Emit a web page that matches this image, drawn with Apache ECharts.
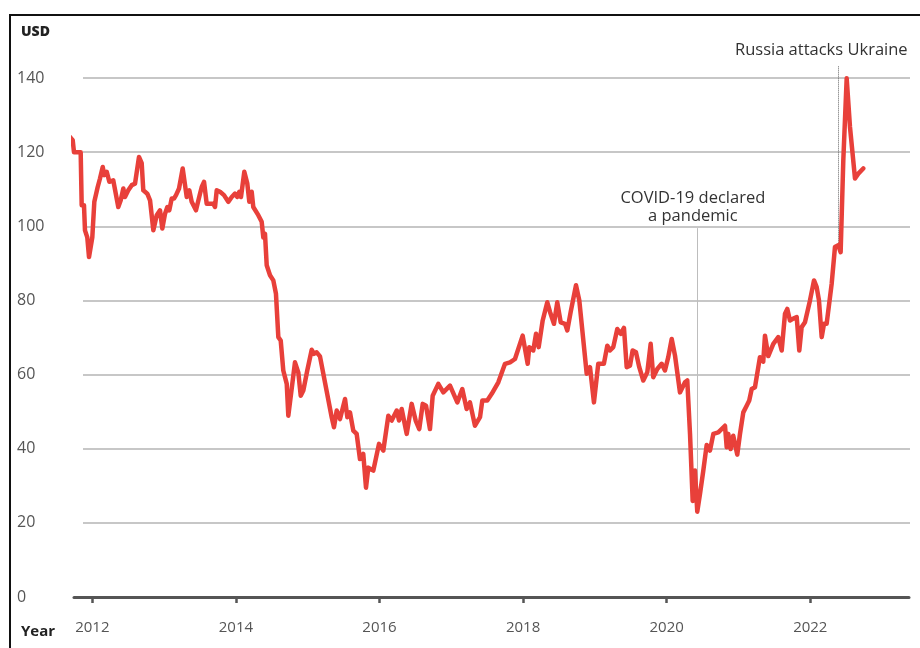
<!DOCTYPE html>
<html>
<head>
<meta charset="utf-8">
<script src="https://cdn.jsdelivr.net/npm/echarts@6/dist/echarts.min.js"></script>
<style>
html,body{margin:0;padding:0;background:#fff;}
#chart{width:920px;height:648px;}
</style>
</head>
<body>
<div id="chart"></div>
<script>
// Time (decimal years) and price (USD)
var years = [
2011.666,2011.727,2011.745,2011.838,2011.852,2011.884,2011.898,2011.930,2011.954,2012.000,
2012.028,2012.075,2012.107,2012.145,2012.167,2012.201,2012.237,2012.292,2012.362,2012.396,
2012.432,2012.455,2012.501,2012.549,2012.595,2012.650,2012.688,2012.710,2012.766,2012.804,
2012.850,2012.897,2012.943,2012.975,2013.013,2013.045,2013.072,2013.106,2013.138,2013.166,
2013.208,2013.259,2013.315,2013.351,2013.384,2013.444,2013.500,2013.524,2013.556,2013.593,
2013.685,2013.709,2013.733,2013.779,2013.834,2013.894,2013.942,2013.987,2014.019,2014.047,
2014.071,2014.117,2014.159,2014.187,2014.220,2014.242,2014.312,2014.359,2014.382,2014.405,
2014.429,2014.475,2014.521,2014.558,2014.591,2014.624,2014.660,2014.708,2014.730,2014.753,
2014.823,2014.869,2014.903,2014.939,2014.994,2015.056,2015.088,2015.125,2015.171,2015.334,
2015.366,2015.404,2015.450,2015.520,2015.552,2015.589,2015.635,2015.682,2015.728,2015.774,
2015.812,2015.844,2015.914,2015.993,2016.053,2016.123,2016.170,2016.240,2016.272,2016.309,
2016.379,2016.448,2016.504,2016.554,2016.602,2016.648,2016.703,2016.741,2016.819,2016.889,
2016.982,2017.084,2017.153,2017.214,2017.260,2017.330,2017.400,2017.432,2017.501,2017.563,
2017.655,2017.748,2017.818,2017.887,2017.994,2018.064,2018.086,2018.142,2018.180,2018.217,
2018.273,2018.337,2018.375,2018.430,2018.476,2018.524,2018.584,2018.616,2018.663,2018.737,
2018.783,2018.886,2018.932,2018.987,2019.047,2019.125,2019.173,2019.210,2019.256,2019.312,
2019.359,2019.405,2019.443,2019.489,2019.526,2019.572,2019.618,2019.674,2019.730,2019.777,
2019.813,2019.869,2019.930,2019.976,2020.022,2020.070,2020.116,2020.185,2020.255,2020.287,
2020.325,2020.362,2020.394,2020.426,2020.464,2020.510,2020.557,2020.603,2020.650,2020.719,
2020.812,2020.836,2020.858,2020.891,2020.927,2020.983,2021.021,2021.067,2021.114,2021.150,
2021.184,2021.230,2021.276,2021.299,2021.345,2021.369,2021.415,2021.485,2021.554,2021.602,
2021.648,2021.680,2021.717,2021.763,2021.811,2021.847,2021.880,2021.926,2021.996,2022.052,
2022.089,2022.121,2022.159,2022.191,2022.228,2022.298,2022.344,2022.390,2022.423,2022.460,
2022.507,2022.553,2022.623,2022.669,2022.738
];
var prices = [
124.6,123.2,120,120,105.7,105.7,98.9,97,91.7,97,
106.6,110.6,112.9,116,113.8,114.7,112,112.4,105.2,107,
110.2,107.9,109.7,111.1,111.5,118.7,117,109.7,108.8,107,
98.9,103,104.3,99.4,103.4,105.2,104.3,107.5,107.5,108.4,
110.2,115.6,107.9,109.7,106.6,104.3,108.8,110.6,112,106.1,
106.1,105.2,109.7,109.3,108.4,106.6,107.9,108.8,107.9,109.3,
107.9,114.7,111.5,106.6,109.3,105.2,103,101.2,97,98,
89.5,86.8,85.4,81.8,70.1,69.2,61.1,57.5,48.9,49.4,
63.3,60.6,54.3,55.7,61.1,66.7,65.6,66,64.9,48.5,
45.8,50.3,48,53.4,48.5,49.8,44.9,44,37.2,38.6,
29.5,34.9,34.1,41.3,39.5,48.9,47.6,50.3,47.6,50.7,
44,52.1,47.6,45.3,52.1,51.6,45.3,54.3,57.5,55.2,
57,52.5,56.1,50.7,52.5,46.2,48.5,53,53,54.8,
57.9,62.9,63.3,64.2,70.5,62.9,67.4,66.5,71,67.4,
74.6,79.5,76.9,73.7,79.5,74.1,73.7,71.9,76.9,84.1,
80,60.2,62,52.5,62.9,62.9,67.8,66.5,67.4,72.3,
71,72.6,62,62.4,66.5,66,62,58.4,60.6,68.3,
59.3,61.5,62.9,61.1,64.7,69.6,65.1,55.2,57.9,58.4,
44,25.9,34.1,23,27.8,34.1,41,39.5,44,44.4,
46.2,40.4,44,39.9,43.5,38.4,44,49.8,51.6,53,
56.1,56.6,62,64.7,63.5,70.5,65,68.3,70.1,66.5,
76.4,77.7,74.6,75.1,75.5,66.5,72.8,74.1,80,85.4,
83.6,80,70.1,73.7,73.7,84.5,94.4,94.9,93,117.8,
139.9,126.8,112.9,114.2,115.6
];
var xTickYears = [2012, 2014, 2016, 2018, 2020, 2022];
var yTicks = [0, 20, 40, 60, 80, 100, 120, 140];
// Annotated events: year, value range of the marker line, label
var covidEvent = {year: 2020.42, from: 23, to: 99.5, label: 'COVID-19 declared\na pandemic'};
var russiaEvent = {year: 2022.39, from: 95.4, to: 143.2, label: 'Russia attacks Ukraine'};

var seriesData = years.map(function (y, i) { return [y, prices[i]]; });
var FONT = 'Open Sans';

var chart = echarts.init(document.getElementById('chart'), null, {renderer: 'canvas'});
var gridColors = yTicks.map(function (v) { return v === 0 ? 'rgba(0,0,0,0)' : '#b4b4b4'; });

// plot geometry: value 0 at bottom 51, value 140 at top 78
var plotH = 648 - 51 - 78;
var pxPerUnit = plotH / 140;
var dataTop = 78 - 10 * pxPerUnit; // data grid extends up to 150 so annotations fit

chart.setOption({
  animation: false,
  backgroundColor: '#fff',
  textStyle: {fontFamily: FONT},
  title: [
    {text: 'USD', left: 16, top: 20, textStyle: {fontFamily: FONT, fontSize: 14, fontWeight: 800, color: '#222'}},
    {text: 'Year', left: 16, top: 619, textStyle: {fontFamily: FONT, fontSize: 15, fontWeight: 'bold', color: '#222'}}
  ],
  graphic: [
    {type: 'polyline', shape: {points: [[10, 648], [10, 15], [920, 15]]}, style: {stroke: '#111', lineWidth: 2, fill: null}, z: 100}
  ],
  grid: [
    {left: 74, right: 11, top: dataTop, bottom: 51},
    {left: 83, right: 10, top: 78, bottom: 51}
  ],
  xAxis: [
    {
      type: 'value', gridIndex: 0, min: 2011.745, max: 2023.375, offset: 6,
      splitLine: {show: false},
      axisLine: {show: true, lineStyle: {color: '#555', width: 3}},
      axisTick: {show: true, customValues: xTickYears, length: 6, lineStyle: {color: '#555', width: 2.5}},
      axisLabel: {show: true, customValues: xTickYears, margin: 17, fontSize: 15, color: '#555', fontFamily: FONT,
        formatter: function (v) { return String(Math.round(v)); }}
    },
    {
      type: 'value', gridIndex: 1, min: 0, max: 1, show: false
    }
  ],
  yAxis: [
    {type: 'value', gridIndex: 0, min: 0, max: 150, show: false, splitLine: {show: false}},
    {
      type: 'value', gridIndex: 1, min: 0, max: 140, interval: 20,
      axisLine: {show: false}, axisTick: {show: false},
      axisLabel: {margin: 66, align: 'left', fontSize: 16, color: '#555', fontFamily: FONT},
      splitLine: {show: true, lineStyle: {color: gridColors, width: 1.5}}
    }
  ],
  series: [
    {
      type: 'line', xAxisIndex: 0, yAxisIndex: 0,
      data: seriesData, showSymbol: false, clip: false, smooth: false,
      lineStyle: {color: '#e8403a', width: 4.5, join: 'round', cap: 'round'},
      z: 5,
      markLine: {
        silent: true, symbol: ['none', 'none'], animation: false, z: 4,
        data: [
          [
            {coord: [covidEvent.year, covidEvent.from], lineStyle: {color: '#bdbdbd', width: 1, type: 'solid'},
              label: {show: true, position: 'end', formatter: covidEvent.label, fontFamily: FONT, fontSize: 16.5, color: '#333', lineHeight: 18, offset: [-4, 2]}},
            {coord: [covidEvent.year, covidEvent.to]}
          ],
          [
            {coord: [russiaEvent.year, russiaEvent.from], lineStyle: {color: '#666', width: 1, type: 'dotted'},
              label: {show: true, position: 'end', formatter: russiaEvent.label, fontFamily: FONT, fontSize: 16.5, color: '#333', offset: [-17, -2]}},
            {coord: [russiaEvent.year, russiaEvent.to]}
          ]
        ]
      }
    }
  ]
});
</script>
</body>
</html>
